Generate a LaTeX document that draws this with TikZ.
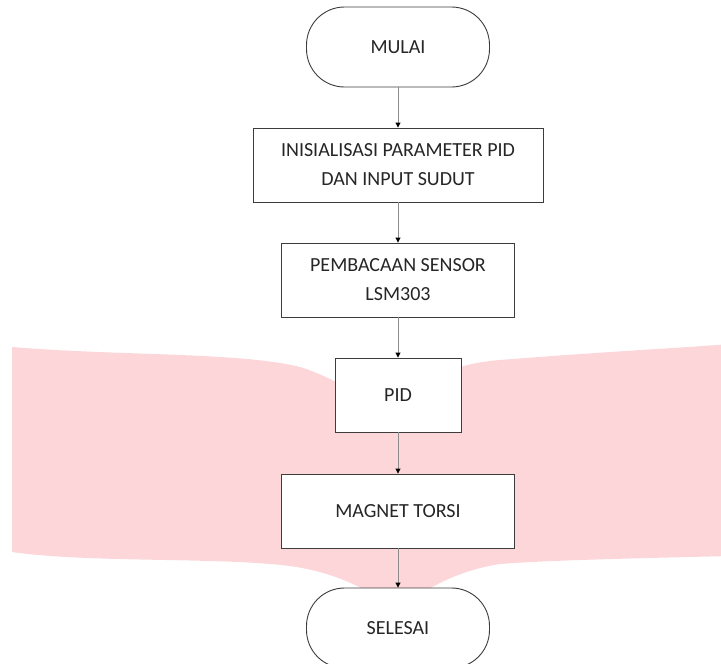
\documentclass[tikz,border=0pt]{standalone}
\usepackage{fontspec}
\setmainfont{Carlito}
\usetikzlibrary{arrows.meta}
\definecolor{mypink}{RGB}{252,214,217}
\definecolor{myarrow}{RGB}{140,140,140}
\definecolor{myline}{RGB}{60,60,60}

\begin{document}
\begin{tikzpicture}[x=1pt, y=-1pt,
    box/.style={draw=myline, fill=white, line width=0.9pt, minimum height=74pt,
        align=center, inner sep=0pt, text=black!85,
        font=\fontsize{20}{29}\selectfont},
    terminal/.style={box, rounded corners=38pt, minimum width=183pt, minimum height=80pt},
    flow/.style={draw=myarrow, line width=0.9pt,
        -{Triangle[length=5pt, width=5pt, color=black, fill=black]}}]
    \clip (0,0) rectangle (721,664);
    % Pink background shape
    \fill[mypink] (12,347) .. controls (120,356) and (240,352) .. (300,367)
        .. controls (330,376) and (370,400) .. (398,418)
        .. controls (420,380) and (450,364) .. (500,360)
        .. controls (600,352) and (680,348) .. (730,344)
        -- (730,556)
        .. controls (650,558) and (550,560) .. (500,564)
        .. controls (460,570) and (425,588) .. (398,610)
        .. controls (365,588) and (330,568) .. (270,564)
        .. controls (200,558) and (80,562) .. (12,552) -- cycle;
    % Flowchart blocks
    \node[terminal] (mulai) at (398,47) {MULAI};
    \node[box, minimum width=290pt] (init) at (398,165) {INISIALISASI PARAMETER PID\\DAN INPUT SUDUT};
    \node[box, minimum width=233pt] (baca) at (398,280) {PEMBACAAN SENSOR\\LSM303};
    \node[box, minimum width=126pt] (pid) at (398,395) {PID};
    \node[box, minimum width=233pt] (magnet) at (398,511) {MAGNET TORSI};
    \node[terminal] (selesai) at (398,628) {SELESAI};
    % Arrows
    \draw[flow] (mulai) -- (init);
    \draw[flow] (init) -- (baca);
    \draw[flow] (baca) -- (pid);
    \draw[flow] (pid) -- (magnet);
    \draw[flow] (magnet) -- (selesai);
\end{tikzpicture}
\end{document}
